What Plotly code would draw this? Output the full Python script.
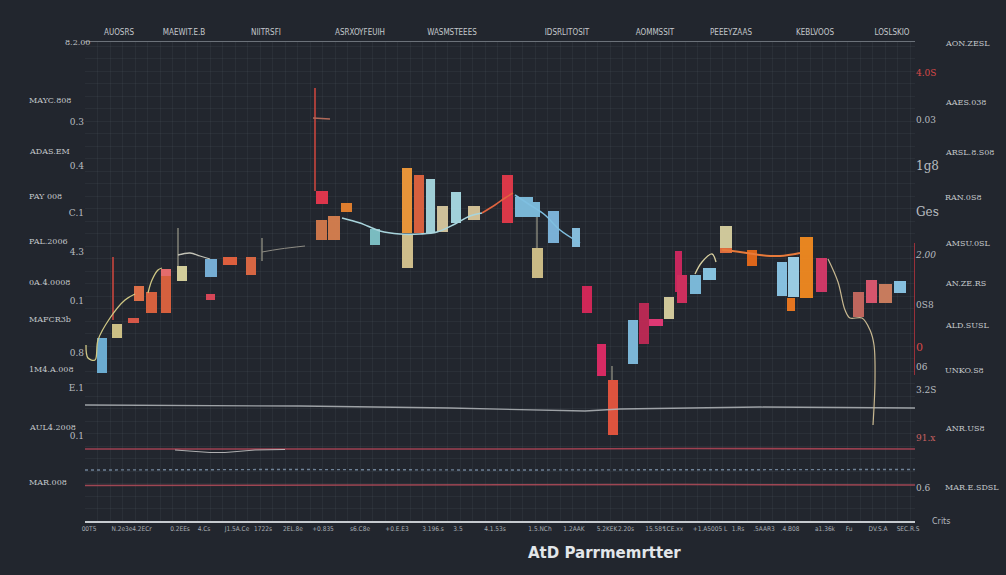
import plotly.graph_objects as go

# ---------------- data ----------------
# floating bars: centre position, low and high value
bar_pos = [3.4, 6.4, 9.7, 10.8, 13.3, 16.2, 16.2, 19.4, 25.2, 25.1, 29.0, 33.2,
           47.4, 47.3, 49.8, 52.3, 58.0, 64.4, 64.5, 66.8, 69.1, 71.5, 74.2, 77.8,
           84.5, 87.8, 90.3, 90.5, 93.7, 98.2, 100.4, 103.3, 105.6, 109.6, 111.8,
           114.2, 116.8, 118.7, 119.4, 122.1, 124.9, 128.2, 128.2, 133.4, 139.4,
           141.7, 144.3, 141.2, 147.3, 154.7, 157.3, 160.1, 163.0]
bar_low = [29.6, 36.6, 39.6, 44.0, 41.6, 41.6, 49.0, 48.0, 48.8, 44.2, 51.2, 49.2,
           63.4, 56.2, 56.2, 61.8, 55.2, 57.6, 50.6, 57.6, 57.6, 57.8, 59.6, 60.2,
           59.6, 60.8, 60.8, 48.6, 55.6, 54.8, 41.6, 29.0, 17.2, 31.4, 35.4,
           39.0, 40.4, 45.8, 43.6, 45.4, 48.2, 54.6, 53.6, 51.0, 45.0,
           44.8, 44.6, 42.0, 45.8, 40.8, 43.6, 43.6, 45.6]
bar_high = [36.6, 39.4, 40.6, 47.0, 45.8, 49.0, 50.4, 51.0, 52.4, 45.4, 52.8, 52.8,
            66.0, 60.2, 61.0, 63.6, 58.4, 70.6, 57.4, 69.2, 68.4, 63.0, 65.8, 63.0,
            69.2, 64.8, 63.8, 54.6, 62.0, 58.6, 47.0, 35.4, 28.2, 40.2, 43.6,
            40.4, 44.8, 54.0, 49.2, 49.2, 50.6, 59.0, 54.6, 54.2, 51.8,
            52.8, 56.8, 44.6, 52.6, 45.8, 48.2, 47.4, 48.0]

# connecting curves (x, y)
curve_a1_x = [0.2, 0.6, 2.0, 2.6, 5.0, 8.0, 10.0]
curve_a1_y = [35.2, 32.6, 32.2, 36.2, 40.6, 44.2, 45.4]
curve_a2_x = [12.6, 13.4, 14.6, 15.4]
curve_a2_y = [45.6, 48.2, 50.2, 50.6]
curve_a3_x = [18.6, 21.0, 23.0, 25.0]
curve_a3_y = [53.2, 53.6, 53.0, 52.4]
curve_a4_x = [35.4, 39.0, 44.0]
curve_a4_y = [53.8, 54.4, 55.0]
curve_b_x = [51.4, 55.0, 59.0, 63.0, 67.0, 70.4, 74.0, 77.0, 79.4]
curve_b_y = [60.6, 59.6, 58.0, 57.4, 57.4, 57.8, 59.4, 61.0, 61.6]
curve_c_x = [79.4, 82.0, 84.0, 85.6]
curve_c_y = [61.6, 63.2, 64.6, 65.6]
curve_d_x = [86.0, 89.0, 92.0, 95.0, 99.0]
curve_d_y = [65.2, 63.2, 61.2, 58.2, 55.6]
curve_e_x = [122.0, 123.4, 125.4, 126.2]
curve_e_y = [49.4, 51.8, 53.4, 51.8]
curve_f_x = [127.4, 131.0, 135.0, 139.0, 143.0]
curve_f_y = [54.2, 53.8, 53.2, 53.0, 53.6]
curve_g_x = [148.6, 150.6, 152.0, 153.0, 155.4, 157.0, 157.8, 158.0, 157.6]
curve_g_y = [52.4, 47.8, 42.2, 40.6, 40.6, 38.2, 35.2, 28.2, 19.2]

# thin wicks (x, y-from, y-to)
wick_red_x = [46.0, 5.6]
wick_red_lo = [66.0, 40.2]
wick_red_hi = [86.6, 52.8]
wick_grey_x = [18.6, 35.4, 90.4, 105.4]
wick_grey_lo = [51.0, 52.0, 54.6, 28.2]
wick_grey_hi = [58.6, 56.6, 60.8, 31.0]
cross_x = [45.6, 49.0]
cross_y = [80.6, 80.4]
right_mark_x = [166.0, 166.0]
right_mark_y = [29.2, 55.6]

# reference bands at the bottom
band1_x = [0, 43, 73, 100, 107, 135, 166]
band1_y = [23.2, 23.0, 22.6, 22.0, 22.4, 22.8, 22.6]
band2_x = [0, 30, 60, 90, 120, 166]
band2_y = [14.4, 14.4, 14.3, 14.4, 14.5, 14.4]
band2b_x = [18, 25, 28, 34, 40]
band2b_y = [14.2, 13.7, 13.7, 14.2, 14.3]
band3_x = [0, 40, 80, 120, 166]
band3_y = [10.2, 10.3, 10.2, 10.2, 10.3]
band4_x = [0, 40, 80, 120, 166]
band4_y = [7.1, 7.2, 7.2, 7.3, 7.2]

# axis labels
bottom_pos = [0.8, 7.4, 11.4, 19.0, 23.8, 30.4, 35.6, 41.6, 47.6, 55.0, 62.4, 69.6,
              74.6, 82.0, 91.0, 97.8, 104.4, 108.0, 114.0, 117.6, 125.0, 130.6,
              135.8, 141.0, 148.0, 152.8, 158.6, 164.6]
bottom_text = ["00T5", "N.2e3e", "4.2ECr", "0.2EEs", "4.Cs", "J1.5A.Ce", "1722s",
               "2EL.8e", "+0.835", "s6.C8e", "+0.E.E3", "3.196.s", "3.5", "4.1.53s",
               "1.5.NCh", "1.2AAK", "5.2KEK", ".2.20s", "15.58*", "1CE.xx",
               "+1.A5005 L", "1.Rs", ".5AAR3", ".4.B08", "a1.36k", "Fu", "DV.S.A",
               "SEC.R.S"]
top_pos = [6.8, 19.8, 36.2, 55.0, 73.4, 96.4, 114.0, 129.2, 146.0, 161.4]
top_text = ["AUOSRS", "MAEWIT.E.B", "NIITRSFI", "ASRXOYFEUIH", "WASMSTEEES",
            "IDSRLITOSIT", "AOMMSSIT", "PEEEYZAAS", "KEBLVOOS", "LOSLSKIO"]
left_pos = [79.8, 71.0, 61.6, 53.8, 44.0, 33.6, 26.6, 17.0]
left_text = ["0.3", "0.4", "C.1", "4.3", "0.1", "0.8", "E.1", "0.1"]
left_outer_pos = [84.2, 74.0, 65.0, 56.0, 47.8, 40.4, 30.4, 18.8, 7.8]
left_outer_text = ["MAYC.808", "ADAS.EM", "PAY 008", "PAL.2006", "0A.4.0008",
                   "MAFCR3b", "1M4.A.008", "AUL4.2008", "MAR.008"]
right_pos = [89.6, 80.2, 70.8, 61.6, 53.2, 43.2, 34.6, 30.8, 26.2, 16.6, 6.6]
right_text = ["<span style='color:#d84848'>4.0S</span>", "0.03",
              "<span style='font-size:12px'>1g8</span>",
              "<span style='font-size:12px'>Ges</span>", "<i>2.00</i>", "0S8",
              "<span style='color:#d84848;font-size:11px'>0</span>", "06", "3.2S",
              "<span style='color:#c86060'>91.x</span>", "0.6"]
right_outer_pos = [95.6, 83.8, 73.8, 64.8, 55.6, 47.6, 39.2, 30.2, 18.6, 6.8]
right_outer_text = ["AON.ZESL", "AAES.038", "ARSL.8.S08", "RAN.0S8", "AMSU.0SL",
                    "AN.ZE.RS", "ALD.SUSL", "UNKO.S8", "ANR.US8", "MAR.E.SDSL"]

# ---------------- styles ----------------
BG = "#22262e"
bar_width = [2.0, 2.0, 2.2, 2.0, 2.2, 2.0, 2.0, 2.0, 2.4, 1.8, 2.8, 2.0,
             2.4, 2.2, 2.4, 2.2, 2.0, 2.0, 2.2, 2.0, 1.8, 2.2, 2.0, 2.4,
             2.2, 3.6, 1.4, 2.2, 2.2, 1.6, 2.0, 1.8, 2.0, 2.0, 2.0,
             2.8, 2.0, 1.4, 2.0, 2.2, 2.6, 2.4, 2.4, 2.0, 2.0,
             2.2, 2.6, 1.6, 2.2, 2.2, 2.2, 2.6, 2.4]
bar_color = ["#6fb3d9", "#d6c98a", "#e05a4a", "#e8734a", "#e0643f", "#e0643f",
             "#ee7070", "#dcd6a0", "#7ab4dc", "#e0485a", "#e8633f", "#e06a45",
             "#e8374e", "#d37a4c", "#d8804f", "#e8822e", "#7fc4c8", "#f29a3a",
             "#d8c690", "#e0643f", "#a6d8e0", "#d8c9a0", "#a8dbe4", "#d9c79a",
             "#e43a4a", "#7fbfe0", "#7fbfe0", "#d4c28a", "#7fb8e0", "#8ac4e4",
             "#d8285a", "#e02b66", "#e8563f", "#80bde0", "#c02a55", "#e83a78",
             "#d9d0a0", "#d02860", "#d83060", "#7fbfe0", "#8ccbe8", "#d8d0a0",
             "#e8703f", "#e86a1a", "#8cc8e8", "#a0d4ec", "#f28a20", "#f07a20",
             "#d83a6a", "#c86a60", "#e05870", "#d08060", "#8cc8e8"]

SMALL = dict(family="DejaVu Sans Condensed, DejaVu Sans", size=6.5, color="#a8aeb4")

fig = go.Figure()

# reference bands
for bx, by, col, w, dash in [
    (band1_x, band1_y, "#b4b8bc", 1.3, "solid"),
    (band2_x, band2_y, "#b54658", 1.6, "solid"),
    (band2b_x, band2b_y, "#c8c8c8", 1.0, "solid"),
    (band3_x, band3_y, "#7d93aa", 1.4, "dot"),
    (band4_x, band4_y, "#b44c5a", 1.5, "solid"),
]:
    fig.add_trace(go.Scatter(x=bx, y=by, mode="lines", line=dict(color=col, width=w, dash=dash),
                             opacity=0.85, hoverinfo="skip", showlegend=False))

# wicks
wx, wy = [], []
for x, lo, hi in zip(wick_red_x, wick_red_lo, wick_red_hi):
    wx += [x, x, None]
    wy += [lo, hi, None]
fig.add_trace(go.Scatter(x=wx, y=wy, mode="lines", line=dict(color="#c8463e", width=1.6),
                         hoverinfo="skip", showlegend=False))
gx, gy = [], []
for x, lo, hi in zip(wick_grey_x, wick_grey_lo, wick_grey_hi):
    gx += [x, x, None]
    gy += [lo, hi, None]
fig.add_trace(go.Scatter(x=gx, y=gy, mode="lines", line=dict(color="#a6a492", width=1.1),
                         hoverinfo="skip", showlegend=False))
fig.add_trace(go.Scatter(x=cross_x, y=cross_y, mode="lines", line=dict(color="#b06a5a", width=1.4),
                         hoverinfo="skip", showlegend=False))
fig.add_trace(go.Scatter(x=right_mark_x, y=right_mark_y, mode="lines",
                         line=dict(color="#c0343e", width=1.5), hoverinfo="skip",
                         showlegend=False))

# floating bars
fig.add_trace(go.Bar(
    x=bar_pos,
    base=bar_low,
    y=[h - l for h, l in zip(bar_high, bar_low)],
    width=bar_width,
    marker=dict(color=bar_color, line=dict(width=0)),
    opacity=0.95,
    hoverinfo="skip",
    showlegend=False,
))

# curves
for cx, cy, col, w in [
    (curve_a1_x, curve_a1_y, "#cfc784", 1.3),
    (curve_a2_x, curve_a2_y, "#cfc784", 1.3),
    (curve_a3_x, curve_a3_y, "#c2c2b6", 1.3),
    (curve_a4_x, curve_a4_y, "#8e8c84", 1.0),
    (curve_b_x, curve_b_y, "#a8d4dc", 1.6),
    (curve_c_x, curve_c_y, "#e0643f", 1.6),
    (curve_d_x, curve_d_y, "#7fbfe0", 1.6),
    (curve_e_x, curve_e_y, "#d8d0a0", 1.3),
    (curve_f_x, curve_f_y, "#e87a3a", 2.0),
    (curve_g_x, curve_g_y, "#c8b890", 1.2),
]:
    fig.add_trace(go.Scatter(x=cx, y=cy, mode="lines", line=dict(color=col, width=w, shape="spline"),
                             hoverinfo="skip", showlegend=False))

# dummy traces binding the secondary axes
fig.add_trace(go.Scatter(x=[top_pos[0]], y=[0], xaxis="x2", mode="markers",
                         marker=dict(opacity=0), hoverinfo="skip", showlegend=False))
fig.add_trace(go.Scatter(x=[0], y=[right_pos[0]], yaxis="y2", mode="markers",
                         marker=dict(opacity=0), hoverinfo="skip", showlegend=False))

grid_minor = dict(dtick=2.5, tick0=0, showgrid=True, gridcolor="rgba(140,150,165,0.08)", gridwidth=1)

fig.update_layout(
    width=1006, height=575,
    margin=dict(l=85, r=91, t=42, b=54),
    paper_bgcolor=BG, plot_bgcolor=BG,
    barmode="overlay",
    showlegend=False,
    xaxis=dict(range=[0, 166], tickmode="array", tickvals=bottom_pos, ticktext=bottom_text,
               tickfont=SMALL, tickangle=0, showgrid=False, zeroline=False, showline=True,
               linecolor="#c6cacf", linewidth=1.5, ticks="", minor=grid_minor),
    xaxis2=dict(range=[0, 166], overlaying="x", side="top", tickmode="array",
                tickvals=top_pos, ticktext=top_text, tickangle=0,
                tickfont=dict(family="DejaVu Sans Condensed, DejaVu Sans", size=8, color="#c4c8cc"),
                showgrid=False, zeroline=False, showline=True, linecolor="#6c727a",
                linewidth=1.2, ticks="outside", ticklen=3, tickcolor="rgba(0,0,0,0)"),
    yaxis=dict(range=[0, 95.8], tickmode="array", tickvals=left_pos, ticktext=left_text,
               tickfont=dict(family="DejaVu Serif, DejaVu Sans", size=9, color="#b8bcc0"),
               showgrid=False, zeroline=False, showline=False, ticks="", minor=grid_minor),
    yaxis2=dict(range=[0, 95.8], overlaying="y", side="right", tickmode="array",
                tickvals=right_pos, ticktext=right_text,
                tickfont=dict(family="DejaVu Serif, DejaVu Sans", size=9, color="#b8bcc0"),
                showgrid=False, zeroline=False, showline=False, ticks=""),
)

annotations = []
for t, y in zip(left_outer_text, left_outer_pos):
    annotations.append(dict(text=t, x=-0.07, xref="paper", y=y, yref="y", xanchor="left",
                            showarrow=False, font=dict(family="DejaVu Serif", size=8, color="#c4c8cc")))
for t, y in zip(right_outer_text, right_outer_pos):
    annotations.append(dict(text=t, x=1.034, xref="paper", y=y, yref="y", xanchor="left",
                            showarrow=False, font=dict(family="DejaVu Serif", size=8, color="#c4c8cc")))
annotations.append(dict(text="8.2.00", x=-0.027, xref="paper", y=95.8, yref="y",
                        showarrow=False, font=dict(family="DejaVu Serif", size=8, color="#c4c8cc")))
annotations.append(dict(text="Crits", x=1.018, xref="paper", y=-0.002, yref="paper",
                        xanchor="left", yanchor="middle",
                        showarrow=False, font=dict(family="DejaVu Sans", size=8, color="#b4b9be")))
annotations.append(dict(text="<b>AtD Parrmemrtter</b>", x=0.6265, xref="paper", y=-0.067,
                        yref="paper", yanchor="middle", showarrow=False,
                        font=dict(family="DejaVu Sans", size=15, color="#e2e6ea")))
fig.update_layout(annotations=annotations)

fig.write_html("out.html")
